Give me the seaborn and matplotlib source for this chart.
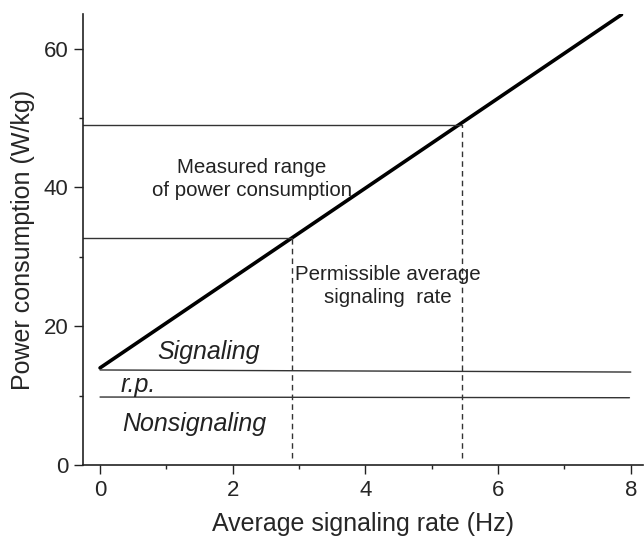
import matplotlib.pyplot as plt
import seaborn as sns
import pandas as pd
from matplotlib.ticker import MultipleLocator

sns.set_theme(style="ticks")
plt.rcParams['font.family'] = ['Liberation Sans', 'DejaVu Sans']

# signaling cost line
rate = [0.0, 7.86]
power = [14.0, 64.9]

# measured range of power consumption and matching rates
measured_low, measured_high = 32.7, 49.0
rate_low, rate_high = 2.90, 5.45

# signaling / resting potential / nonsignaling boundaries
signal_x = [0.0, 8.0]
signal_y = [13.7, 13.4]
rp_x = [0.0, 7.98]
rp_y = [9.8, 9.7]

fig = plt.figure(figsize=(6.44, 5.37), dpi=100)
ax = fig.add_axes([0.129, 0.134, 0.869, 0.840])

sns.lineplot(x=rate, y=power, ax=ax, color='black', linewidth=2.6)
sns.lineplot(x=signal_x, y=signal_y, ax=ax, color='#333333', linewidth=1.0)
sns.lineplot(x=rp_x, y=rp_y, ax=ax, color='#333333', linewidth=1.0)

xmin = -0.256
ax.plot([xmin, rate_high], [measured_high, measured_high], color='#333333', lw=1.0)
ax.plot([xmin, rate_low], [measured_low, measured_low], color='#333333', lw=1.0)
ax.plot([rate_low, rate_low], [1.0, measured_low], color='#333333', lw=1.0, ls=(0, (4, 3)))
ax.plot([rate_high, rate_high], [1.0, measured_high], color='#333333', lw=1.0, ls=(0, (4, 3)))

ax.text(2.29, 41.25, "Measured range\nof power consumption", ha='center', va='center',
        fontsize=14.8, linespacing=1.3, color='#222222')
ax.text(4.34, 25.85, "Permissible average\nsignaling  rate", ha='center', va='center',
        fontsize=14.8, linespacing=1.25, color='#222222')
ax.text(1.64, 16.3, "Signaling", ha='center', va='center', fontsize=18, style='italic', color='#222222')
ax.text(0.57, 11.5, "r.p.", ha='center', va='center', fontsize=18, style='italic', color='#222222')
ax.text(1.42, 5.9, "Nonsignaling", ha='center', va='center', fontsize=18, style='italic', color='#222222')

ax.set_xlim(xmin, 8.18)
ax.set_ylim(0, 65)
ax.xaxis.set_major_locator(MultipleLocator(2))
ax.xaxis.set_minor_locator(MultipleLocator(1))
ax.yaxis.set_major_locator(MultipleLocator(20))
ax.yaxis.set_minor_locator(MultipleLocator(10))
ax.tick_params(which='major', length=6.5, width=1.0, labelsize=16, color='#222222', pad=4)
ax.tick_params(which='minor', length=3, width=1.0, color='#222222')
for s in ['top', 'right']:
    ax.spines[s].set_visible(False)
for s in ['left', 'bottom']:
    ax.spines[s].set_linewidth(1.2)
    ax.spines[s].set_color('#222222')

ax.set_xlabel("Average signaling rate (Hz)", fontsize=18, labelpad=8)
ax.set_ylabel("Power consumption (W/kg)", fontsize=18, labelpad=6)

fig.savefig("out.png", dpi=100)
